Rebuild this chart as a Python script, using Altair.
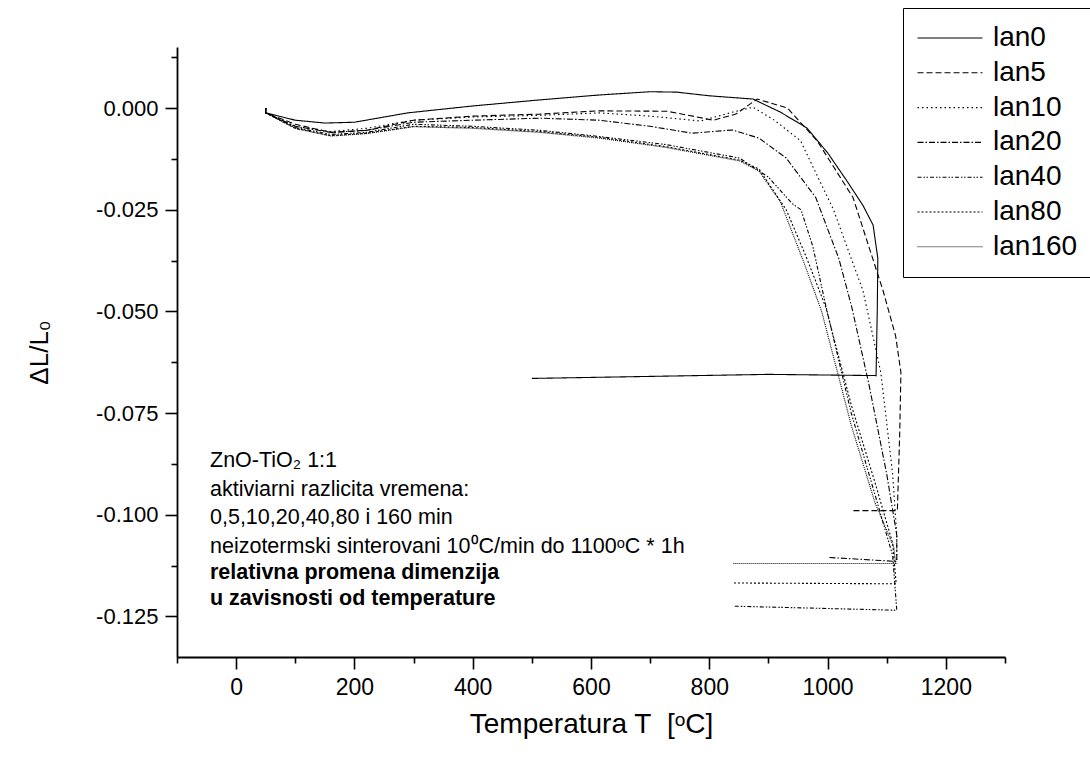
import altair as alt
import pandas as pd

series = ["lan0", "lan5", "lan10", "lan20", "lan40", "lan80", "lan160"]

lan0_T = [50, 50, 100, 150, 200, 290, 400, 514, 614, 700, 745, 800, 874, 920, 965, 1000, 1033, 1060, 1077, 1085, 1084, 1082, 900, 700, 500]
lan0_v = [0.0, -0.0012, -0.003, -0.0037, -0.0035, -0.0012, 0.0005, 0.002, 0.0032, 0.004, 0.0039, 0.003, 0.0022, -0.001, -0.0049, -0.011, -0.018, -0.024, -0.0288, -0.037, -0.05, -0.0658, -0.0655, -0.066, -0.0665]

lan5_T = [50, 50, 100, 160, 220, 300, 400, 514, 614, 729, 807, 845, 881, 932, 982, 1043, 1094, 1115, 1124, 1122, 1118, 1042]
lan5_v = [0.0, -0.0012, -0.004, -0.006, -0.0055, -0.003, -0.002, -0.0015, -0.0007, -0.0008, -0.003, -0.0015, 0.0022, 0.0, -0.008, -0.022, -0.045, -0.056, -0.065, -0.08, -0.099, -0.099]

lan10_T = [50, 50, 100, 160, 220, 300, 400, 514, 614, 700, 785, 840, 874, 910, 954, 1010, 1060, 1090, 1110, 1117, 1117]
lan10_v = [0.0, -0.0012, -0.0045, -0.0058, -0.005, -0.003, -0.0022, -0.0018, -0.0012, -0.002, -0.0032, -0.001, 0.0002, -0.003, -0.008, -0.025, -0.045, -0.065, -0.09, -0.105, -0.112]

lan20_T = [50, 50, 100, 160, 220, 300, 400, 514, 614, 700, 771, 839, 884, 930, 980, 1019, 1041, 1070, 1100, 1117, 1117, 1000]
lan20_v = [0.0, -0.0012, -0.0045, -0.006, -0.0055, -0.0035, -0.003, -0.0025, -0.003, -0.0045, -0.0062, -0.0054, -0.0074, -0.0123, -0.022, -0.037, -0.049, -0.068, -0.09, -0.105, -0.1115, -0.1105]

lan40_T = [50, 50, 100, 160, 220, 300, 400, 514, 614, 727, 851, 900, 940, 955, 975, 997, 1040, 1080, 1110, 1117, 840]
lan40_v = [0.0, -0.0012, -0.0048, -0.0065, -0.006, -0.004, -0.0045, -0.0055, -0.007, -0.009, -0.0123, -0.017, -0.0235, -0.025, -0.034, -0.0486, -0.075, -0.095, -0.11, -0.1235, -0.1225]

lan80_T = [50, 50, 100, 160, 220, 300, 400, 514, 614, 727, 851, 884, 930, 965, 997, 1040, 1080, 1110, 1116, 840]
lan80_v = [0.0, -0.0012, -0.005, -0.0068, -0.0062, -0.0045, -0.0048, -0.0058, -0.0072, -0.0095, -0.0128, -0.015, -0.025, -0.037, -0.049, -0.073, -0.092, -0.107, -0.117, -0.1168]

lan160_T = [50, 50, 100, 160, 220, 300, 400, 514, 614, 727, 851, 884, 920, 960, 990, 1040, 1080, 1112, 1115, 840]
lan160_v = [0.0, -0.0012, -0.005, -0.0069, -0.0063, -0.0046, -0.005, -0.006, -0.0074, -0.0097, -0.013, -0.0155, -0.023, -0.038, -0.05, -0.078, -0.097, -0.108, -0.112, -0.112]

x_major = [0, 200, 400, 600, 800, 1000, 1200]
x_minor = [-100, 100, 300, 500, 700, 900, 1100, 1300]
y_major = [0.0, -0.025, -0.05, -0.075, -0.1, -0.125]
y_minor = [0.0125, -0.0125, -0.0375, -0.0625, -0.0875, -0.1125]

note_lines = [
    "ZnO-TiO\u2082 1:1",
    "aktiviarni razlicita vremena:",
    "0,5,10,20,40,80 i 160 min",
    "neizotermski sinterovani 10\u2070C/min do 1100\u1d52C * 1h",
]
bold_lines = [
    "relativna promena dimenzija",
    "u zavisnosti od temperature",
]

dashes = [[1, 0], [6, 3], [1.5, 3], [6, 2, 1.5, 2], [4, 2, 1.5, 1.5, 1.5, 2], [2, 2], [1, 1]]

all_T = [lan0_T, lan5_T, lan10_T, lan20_T, lan40_T, lan80_T, lan160_T]
all_v = [lan0_v, lan5_v, lan10_v, lan20_v, lan40_v, lan80_v, lan160_v]

rows = []
for name, ts, vs in zip(series, all_T, all_v):
    for i, (t, v) in enumerate(zip(ts, vs)):
        rows.append({"series": name, "i": i, "T": t, "v": v})
df = pd.DataFrame(rows)

FONT = "Liberation Sans"

xs = alt.Scale(domain=[-100, 1300], nice=False, zero=False)
ys = alt.Scale(domain=[-0.135, 0.015], nice=False, zero=False)

x_axis = alt.Axis(
    orient="bottom", values=x_major, format="d", tickSize=12, tickWidth=1.6,
    domainWidth=1.8, domainColor="black", tickColor="black", grid=False,
    labelFont=FONT, labelFontSize=23, labelPadding=7, labelColor="black",
    labelOverlap=False, labelFlush=False,
    title="Temperatura T\u00a0\u00a0[\u1d52C]", titleFont=FONT, titleFontSize=28,
    titleFontWeight="normal", titleColor="black", titleX=414, titleY=67,
    titleAlign="center", titleBaseline="middle",
)
y_axis = alt.Axis(
    orient="left", values=y_major, format=".3f",
    labelExpr="replace(datum.label, '\u2212', '-')",
    tickSize=12, tickWidth=1.6, domainWidth=1.8, domainColor="black",
    tickColor="black", grid=False, labelFont=FONT, labelFontSize=22,
    labelPadding=7, labelColor="black", labelOverlap=False,
    title="\u0394L/L\u2080", titleFont=FONT, titleFontSize=26,
    titleFontWeight="normal", titleColor="black", titleX=-138, titleY=305,
    titleAngle=270, titleAlign="center", titleBaseline="middle",
)
x_minor_axis = alt.Axis(
    orient="bottom", values=x_minor, tickSize=6, tickWidth=1.6,
    tickColor="black", labels=False, domain=False, grid=False, title="",
)
y_minor_axis = alt.Axis(
    orient="left", values=y_minor, tickSize=6, tickWidth=1.6,
    tickColor="black", labels=False, domain=False, grid=False, title="",
)

lines = alt.Chart(df).mark_line(color="black", strokeWidth=1.1).encode(
    x=alt.X("T:Q", scale=xs, axis=x_axis),
    y=alt.Y("v:Q", scale=ys, axis=y_axis),
    strokeDash=alt.StrokeDash(
        "series:N",
        scale=alt.Scale(domain=series, range=dashes),
        sort=series,
        legend=alt.Legend(
            title=None, orient="none", legendX=726, legendY=-39,
            symbolType="M-3,0L3,0", symbolSize=469, symbolStrokeWidth=1.1,
            symbolStrokeColor="black", symbolOffset=17, labelOffset=29,
            labelFont=FONT, labelFontSize=28, labelColor="black",
            labelExpr="datum.label + '\u00a0\u00a0\u00a0'", labelLimit=400,
            rowPadding=6.8, padding=16, strokeColor="black",
            fillColor="white",
        ),
    ),
    detail="series:N",
    order="i:Q",
)

minor = alt.Chart(pd.DataFrame({"T": [0], "v": [0.0]})).mark_point(opacity=0).encode(
    x=alt.X("T:Q", scale=xs, axis=x_minor_axis),
    y=alt.Y("v:Q", scale=ys, axis=y_minor_axis),
)

note = alt.Chart(pd.DataFrame({"k": [0]})).mark_text(
    text=note_lines, align="left", baseline="alphabetic", font=FONT,
    fontSize=21.5, lineHeight=28.5, color="black",
).encode(x=alt.value(33), y=alt.value(420))

bold = alt.Chart(pd.DataFrame({"k": [0]})).mark_text(
    text=bold_lines, align="left", baseline="alphabetic", font=FONT,
    fontSize=21.5, fontWeight="bold", lineHeight=26, color="black",
).encode(x=alt.value(33), y=alt.value(532))

chart = alt.layer(lines, minor, note, bold).resolve_axis(
    x="independent", y="independent"
).properties(
    width=828, height=610,
    padding={"left": 177, "top": 47, "right": 85, "bottom": 103},
    autosize=alt.AutoSizeParams(type="none"),
    background="white",
).configure_view(stroke=None)

chart.save("out.html", embed_options={"renderer": "svg", "actions": False})
